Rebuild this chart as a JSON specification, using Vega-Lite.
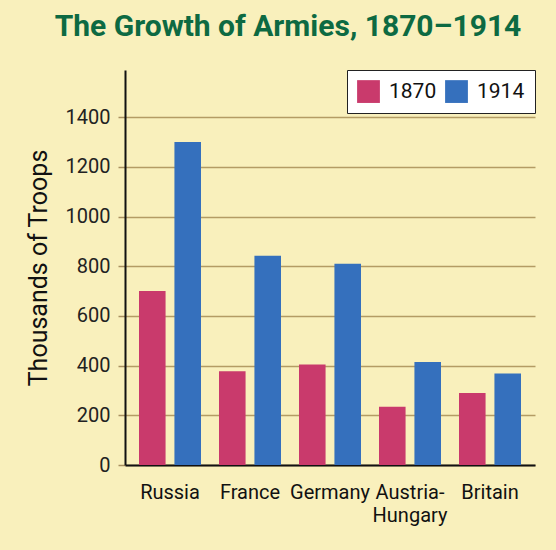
{
  "$schema": "https://vega.github.io/schema/vega-lite/v6.json",
  "width": 410,
  "height": 395,
  "autosize": {"type": "none"},
  "padding": {"left": 125, "top": 70, "right": 21, "bottom": 85},
  "background": "#f9f0bc",
  "title": {
    "text": "The Growth of Armies, 1870–1914",
    "font": "Roboto",
    "fontSize": 30,
    "fontWeight": "bold",
    "color": "#0d6a42",
    "anchor": "middle",
    "dx": -42,
    "offset": 28
  },
  "data": {
    "values": [
      {"country": "Russia", "year": "1870", "troops": 700},
      {"country": "Russia", "year": "1914", "troops": 1300},
      {"country": "France", "year": "1870", "troops": 377},
      {"country": "France", "year": "1914", "troops": 842},
      {"country": "Germany", "year": "1870", "troops": 405},
      {"country": "Germany", "year": "1914", "troops": 810},
      {"country": "Austria-Hungary", "year": "1870", "troops": 234},
      {"country": "Austria-Hungary", "year": "1914", "troops": 415},
      {"country": "Britain", "year": "1870", "troops": 290},
      {"country": "Britain", "year": "1914", "troops": 368}
    ]
  },
  "mark": {"type": "bar"},
  "encoding": {
    "x": {
      "field": "country",
      "type": "nominal",
      "sort": ["Russia", "France", "Germany", "Austria-Hungary", "Britain"],
      "scale": {"paddingInner": 0.225, "paddingOuter": 0.175},
      "axis": {
        "title": null,
        "labelAngle": 0,
        "labelFont": "Roboto",
        "labelFontSize": 20,
        "labelColor": "#111",
        "labelPadding": 17,
        "labelLineHeight": 23,
        "labelExpr": "datum.value == 'Austria-Hungary' ? ['Austria-', 'Hungary'] : datum.label",
        "ticks": false,
        "domainColor": "#111",
        "domainWidth": 2,
        "grid": false
      }
    },
    "xOffset": {"field": "year", "type": "nominal", "scale": {"paddingInner": 0.25}},
    "y": {
      "field": "troops",
      "type": "quantitative",
      "scale": {"domain": [0, 1590], "nice": false},
      "axis": {
        "values": [0, 200, 400, 600, 800, 1000, 1200, 1400],
        "format": "d",
        "title": "Thousands of Troops",
        "titleFont": "Roboto",
        "titleFontSize": 25,
        "titleFontWeight": "normal",
        "titleColor": "#111",
        "titleX": -87,
        "titleBaseline": "middle",
        "labelFont": "Roboto",
        "labelFontSize": 20,
        "labelColor": "#222",
        "labelPadding": 8,
        "tickSize": 7,
        "tickColor": "#a89060",
        "tickWidth": 1.5,
        "gridColor": "#b49c64",
        "gridWidth": 1.5,
        "domainColor": "#111",
        "domainWidth": 2
      }
    },
    "color": {
      "field": "year",
      "type": "nominal",
      "scale": {"range": ["#c93a6c", "#3570bd"]},
      "legend": {
        "title": null,
        "orient": "top-right",
        "direction": "horizontal",
        "offset": 0,
        "fillColor": "#ffffff",
        "strokeColor": "#222",
        "padding": 10,
        "labelFont": "Roboto",
        "labelFontSize": 21,
        "labelColor": "#111",
        "labelOffset": 9,
        "columnPadding": 8,
        "symbolType": "square",
        "symbolSize": 520,
        "symbolStrokeWidth": 0,
        "symbolOpacity": 1
      }
    }
  },
  "config": {"view": {"stroke": null}}
}
